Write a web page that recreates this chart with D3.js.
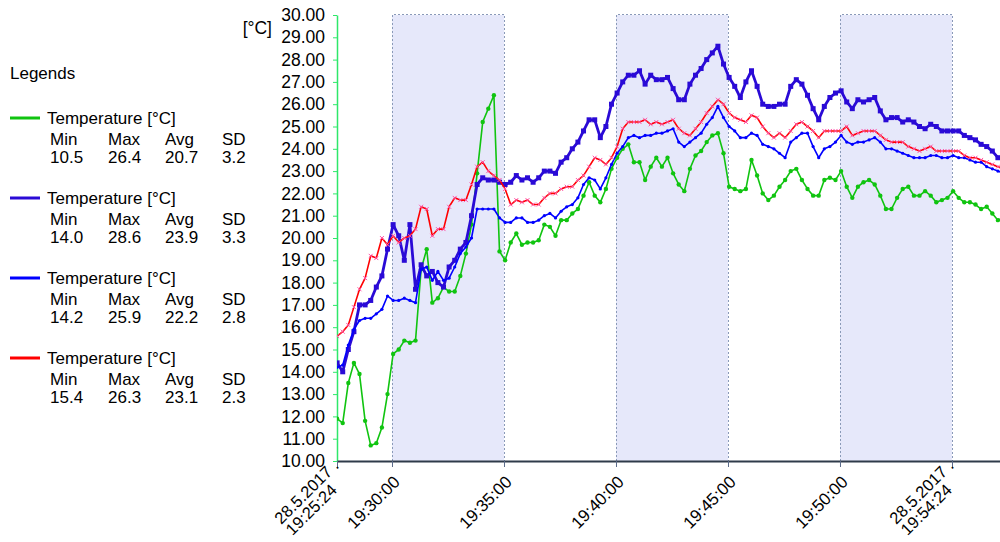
<!DOCTYPE html>
<html>
<head>
<meta charset="utf-8">
<script src="https://cdn.jsdelivr.net/npm/d3@7/dist/d3.min.js"></script>
<style>
  body { margin: 0; background: #fff; }
  svg text { font-family: Arial, "Liberation Sans", sans-serif; fill: #000; }
</style>
</head>
<body>
<script>
////////////
/// DATA ///
////////////

// logger samples, seconds relative to 19:30:00, every 15 s
var sampleStart = -147,
    sampleStep = 15;

// x axis ticks (seconds from 19:30:00) and their labels
var xTickSec = [-147.3, 0, 300, 600, 900, 1200, 1500];
var xTickLabels = [["28.5.2017 .", "19:25:24"], ["19:30:00"], ["19:35:00"], ["19:40:00"],
                   ["19:45:00"], ["19:50:00"], ["28.5.2017 .", "19:54:24"]];

// shaded intervals (seconds from 19:30:00)
var shadeFrom = [0, 600, 1200],
    shadeTo = [300, 900, 1500];

var yTicks = [10, 11, 12, 13, 14, 15, 16, 17, 18, 19, 20, 21, 22, 23, 24, 25, 26, 27, 28, 29, 30];

var tempGreen = [11.9, 11.7, 13.5, 14.4, 13.9, 11.8, 10.7, 10.8, 11.5, 13.0,
  14.8, 15.0, 15.4, 15.3, 15.4, 18.6, 19.5, 17.1, 17.3, 17.8,
  17.6, 17.6, 18.3, 19.3, 20.6, 22.9, 25.2, 25.8, 26.4, 19.4,
  19.0, 19.8, 20.2, 19.7, 19.8, 19.8, 19.9, 20.6, 20.5, 20.1,
  20.8, 20.8, 21.1, 21.3, 21.9, 22.5, 21.9, 21.6, 22.2, 23.1,
  23.6, 24.0, 24.2, 23.4, 23.4, 22.6, 23.2, 23.6, 23.2, 23.6,
  22.9, 22.4, 22.1, 23.1, 23.7, 23.9, 24.3, 24.6, 24.7, 23.8,
  22.3, 22.2, 22.1, 22.2, 23.5, 22.8, 22.0, 21.7, 21.9, 22.3,
  22.6, 23.0, 23.1, 22.6, 22.2, 21.9, 21.9, 22.6, 22.7, 22.6,
  23.0, 22.3, 21.8, 22.3, 22.5, 22.6, 22.4, 21.9, 21.3, 21.3,
  21.8, 22.2, 22.3, 21.9, 21.9, 22.1, 21.9, 21.6, 21.7, 21.8,
  22.1, 21.8, 21.6, 21.6, 21.5, 21.3, 21.4, 21.1, 20.8, 20.9];

var tempBlue1 = [14.4, 14.0, 15.0, 15.8, 17.0, 17.0, 17.2, 17.8, 18.3, 19.5,
  20.6, 20.1, 19.0, 20.6, 17.7, 18.8, 18.3, 18.5, 18.0, 17.8,
  18.7, 19.0, 19.5, 19.8, 21.0, 22.4, 22.7, 22.6, 22.6, 22.5,
  22.4, 22.5, 22.8, 22.6, 22.7, 22.5, 22.7, 23.0, 23.0, 22.9,
  23.4, 23.6, 24.0, 24.3, 24.8, 25.3, 25.3, 24.5, 25.0, 26.0,
  26.5, 27.0, 27.3, 27.3, 27.5, 26.9, 27.3, 27.1, 27.1, 27.2,
  26.7, 26.2, 26.2, 26.9, 27.3, 27.6, 28.0, 28.3, 28.6, 27.8,
  27.2, 26.8, 26.3, 27.0, 27.5, 26.8, 26.0, 25.9, 25.9, 26.0,
  26.0, 26.8, 27.1, 26.9, 26.4, 25.8, 25.3, 25.9, 26.3, 26.5,
  26.6, 26.1, 25.8, 26.2, 26.1, 26.2, 26.3, 25.7, 25.3, 25.4,
  25.4, 25.2, 25.3, 25.2, 25.0, 24.9, 25.1, 25.0, 24.8, 24.8,
  24.8, 24.8, 24.6, 24.5, 24.4, 24.2, 24.1, 23.9, 23.6, 23.5];

var tempBlue2 = [14.2, 14.3, 15.2, 15.9, 16.3, 16.4, 16.4, 16.6, 16.8, 17.4,
  17.2, 17.2, 17.3, 17.2, 17.1, 18.6, 18.7, 18.1, 18.5, 18.1,
  18.2, 18.7, 19.3, 19.6, 20.0, 21.3, 21.3, 21.3, 21.3, 20.9,
  20.7, 20.7, 20.9, 20.9, 20.7, 20.7, 20.8, 21.0, 21.1, 20.9,
  21.2, 21.4, 21.5, 21.8, 22.4, 22.7, 22.6, 22.2, 22.7, 23.3,
  23.8, 24.1, 24.5, 24.6, 24.5, 24.6, 24.6, 24.7, 24.7, 24.8,
  24.9, 24.3, 24.1, 24.3, 24.5, 24.7, 25.1, 25.4, 25.9, 25.4,
  25.0, 24.8, 24.5, 24.5, 24.7, 24.6, 24.2, 24.1, 24.0, 23.8,
  23.6, 24.3, 24.5, 24.7, 24.7, 24.1, 23.6, 24.0, 24.1, 24.3,
  24.6, 24.3, 24.2, 24.3, 24.3, 24.4, 24.5, 24.3, 24.0, 24.0,
  23.9, 23.8, 23.7, 23.6, 23.6, 23.6, 23.7, 23.7, 23.6, 23.6,
  23.7, 23.6, 23.6, 23.5, 23.4, 23.4, 23.2, 23.1, 23.0, 22.9];

var tempRed = [15.6, 15.8, 16.1, 16.9, 17.7, 18.2, 19.2, 19.1, 20.0, 19.7,
  20.1, 19.8, 20.0, 20.1, 20.4, 21.4, 21.3, 20.1, 20.4, 20.4,
  21.4, 21.8, 21.7, 21.7, 22.4, 23.2, 23.4, 23.0, 22.8, 22.6,
  22.2, 21.5, 21.7, 21.6, 21.7, 21.5, 21.5, 21.8, 22.0, 22.0,
  22.2, 22.3, 22.3, 22.6, 22.8, 23.2, 23.6, 23.5, 23.3, 23.6,
  24.1, 24.9, 25.2, 25.2, 25.2, 25.3, 25.1, 25.2, 25.1, 25.2,
  25.3, 24.9, 24.7, 24.6, 24.9, 25.2, 25.6, 25.9, 26.2, 26.0,
  25.6, 25.4, 25.3, 25.2, 25.5, 25.4, 25.0, 24.7, 24.5, 24.7,
  24.5, 24.8, 25.1, 25.2, 25.0, 24.8, 24.5, 24.8, 24.8, 24.8,
  24.8, 25.0, 24.6, 24.7, 24.8, 24.8, 24.8, 24.6, 24.4, 24.3,
  24.3, 24.3, 24.1, 24.0, 23.9, 24.0, 24.1, 23.9, 23.9, 23.9,
  23.9, 23.9, 23.7, 23.6, 23.6, 23.5, 23.4, 23.3, 23.2, 23.1];

// legend statistics
var legendNames = ["Temperature [°C]", "Temperature [°C]", "Temperature [°C]", "Temperature [°C]"];
var statMin = [10.5, 14.0, 14.2, 15.4],
    statMax = [26.4, 28.6, 25.9, 26.3],
    statAvg = [20.7, 23.9, 22.2, 23.1],
    statSD = [3.2, 3.3, 2.8, 2.3];

/////////////////
/// SETUP VIZ ///
/////////////////

var W = 1000, H = 542;
var plot = {left: 337, right: 1000, top: 15, bottom: 461};

var x = d3.scaleLinear().domain([-147.3, 1628.6]).range([plot.left, plot.right]),
    y = d3.scaleLinear().domain([10, 30]).range([plot.bottom, plot.top]);

var svg = d3.select("body").append("svg")
    .attr("width", W)
    .attr("height", H);

svg.append("defs").append("clipPath")
    .attr("id", "plotClip")
    .append("rect")
    .attr("x", plot.left)
    .attr("y", 0)
    .attr("width", plot.right - plot.left)
    .attr("height", plot.bottom);

// shaded bands
var bands = svg.append("g").attr("id", "bands");
bands.selectAll("rect")
    .data(shadeFrom)
    .enter().append("rect")
    .attr("x", function(d) { return x(d); })
    .attr("y", y(30))
    .attr("width", function(d, i) { return x(shadeTo[i]) - x(d); })
    .attr("height", y(10) - y(30))
    .attr("fill", "#e6e8fa");

bands.selectAll("path")
    .data(shadeFrom)
    .enter().append("path")
    .attr("d", function(d, i) {
        var a = Math.round(x(d)) + 0.5, b = Math.round(x(shadeTo[i])) + 0.5, t = Math.round(y(30)) - 0.5;
        return "M" + a + "," + y(10) + "V" + t + "H" + b + "V" + y(10);
    })
    .attr("fill", "none")
    .attr("stroke", "#8a9ab8")
    .attr("stroke-width", 1)
    .attr("stroke-dasharray", "2,2");

// y axis
var yAxisG = svg.append("g")
    .attr("transform", "translate(" + plot.left + ",0)")
    .call(d3.axisLeft(y).tickValues(yTicks).tickFormat(d3.format(".2f")).tickSize(4).tickPadding(8).tickSizeOuter(0));
yAxisG.select(".domain").attr("stroke", "#2ee86a").attr("stroke-width", 1.5);
yAxisG.selectAll(".tick line").attr("stroke", "#2ee86a");
yAxisG.selectAll(".tick text")
    .attr("font-size", "17.5px")
    .attr("font-family", "Arial, 'Liberation Sans', sans-serif")
    .attr("fill", "#000");

svg.append("text")
    .attr("x", 272)
    .attr("y", 34)
    .attr("text-anchor", "end")
    .attr("font-size", "17.5px")
    .text("[°C]");

// x axis
var xAxisG = svg.append("g")
    .attr("transform", "translate(0," + plot.bottom + ")")
    .call(d3.axisBottom(x).tickValues(xTickSec).tickFormat("").tickSize(6).tickSizeOuter(0));
xAxisG.select(".domain").attr("stroke", "#2f3b4a").attr("stroke-width", 2);
xAxisG.selectAll(".tick line").attr("stroke", "#5a6a88");

// rotated labels: block right-aligned at the tick, lines left-aligned inside the block
var xLabelG = svg.append("g").attr("id", "xLabels")
    .selectAll("g")
    .data(xTickSec)
    .enter().append("g")
    .attr("transform", function(d, i) {
        var lift = xTickLabels[i].length > 1 ? 10 : 0;
        return "translate(" + (x(d) + 9) + "," + (plot.bottom + 22 - lift) + ") rotate(-45)";
    });

xLabelG.each(function(d, i) {
    var lines = xTickLabels[i];
    var t = d3.select(this).selectAll("text")
        .data(lines)
        .enter().append("text")
        .attr("font-size", lines.length > 1 ? "16.5px" : "17px")
        .attr("y", function(s, k) { return lines.length == 1 ? 0 : (k == 0 ? -9 : 7); })
        .text(function(s) { return s; });
    var w = d3.max(t.nodes(), function(n) { return n.getComputedTextLength(); });
    t.attr("x", -w);
});

// series
var series = [
    {values: tempGreen, color: "#10c410", width: 1.6, marker: "circle"},
    {values: tempBlue1, color: "#2a0ad6", width: 2.8, marker: "square"},
    {values: tempBlue2, color: "#0000ff", width: 1.6, marker: "dot"},
    {values: tempRed, color: "#ff0000", width: 1.6, marker: "cross"}
];

function sampleTime(i) { return sampleStart + i * sampleStep; }

var line = d3.line()
    .x(function(d, i) { return x(sampleTime(i)); })
    .y(function(d) { return y(d); });

var plotG = svg.append("g").attr("clip-path", "url(#plotClip)");

series.forEach(function(s) {
    var g = plotG.append("g");
    g.append("path")
        .datum(s.values)
        .attr("fill", "none")
        .attr("stroke", s.color)
        .attr("stroke-width", s.width)
        .attr("stroke-linejoin", "round")
        .attr("d", line);

    var pts = g.selectAll(".pt").data(s.values).enter();
    if (s.marker == "circle") {
        pts.append("circle")
            .attr("cx", function(d, i) { return x(sampleTime(i)); })
            .attr("cy", function(d) { return y(d); })
            .attr("r", 2.2)
            .attr("fill", s.color);
    } else if (s.marker == "square") {
        pts.append("rect")
            .attr("x", function(d, i) { return x(sampleTime(i)) - 2.5; })
            .attr("y", function(d) { return y(d) - 2.5; })
            .attr("width", 5)
            .attr("height", 5)
            .attr("fill", s.color);
    } else if (s.marker == "dot") {
        pts.append("circle")
            .attr("cx", function(d, i) { return x(sampleTime(i)); })
            .attr("cy", function(d) { return y(d); })
            .attr("r", 1.6)
            .attr("fill", s.color);
    } else {
        pts.append("path")
            .attr("transform", function(d, i) { return "translate(" + x(sampleTime(i)) + "," + y(d) + ")"; })
            .attr("d", "M-2,-2L2,2M-2,2L2,-2")
            .attr("stroke", "#ff55aa")
            .attr("stroke-width", 1);
    }
});

//////////////
/// LEGEND ///
//////////////

var legend = svg.append("g").attr("id", "legend");
legend.append("text")
    .attr("x", 10)
    .attr("y", 79)
    .attr("font-size", "17px")
    .text("Legends");

var statCols = [50, 108, 165, 222];
var statHeads = ["Min", "Max", "Avg", "SD"];

legendNames.forEach(function(name, i) {
    var top = 118 + i * 80;
    var g = legend.append("g").attr("transform", "translate(0," + top + ")");
    g.append("line")
        .attr("x1", 10).attr("x2", 40)
        .attr("y1", 0).attr("y2", 0)
        .attr("stroke", series[i].color)
        .attr("stroke-width", 3);
    g.append("text")
        .attr("x", 47)
        .attr("y", 6)
        .attr("font-size", "17px")
        .text(name);
    var vals = [statMin[i], statMax[i], statAvg[i], statSD[i]];
    statCols.forEach(function(cx, j) {
        g.append("text")
            .attr("x", cx)
            .attr("y", 27)
            .attr("font-size", "17px")
            .text(statHeads[j]);
        g.append("text")
            .attr("x", cx)
            .attr("y", 45)
            .attr("font-size", "17px")
            .text(vals[j].toFixed(1));
    });
});
</script>
</body>
</html>
